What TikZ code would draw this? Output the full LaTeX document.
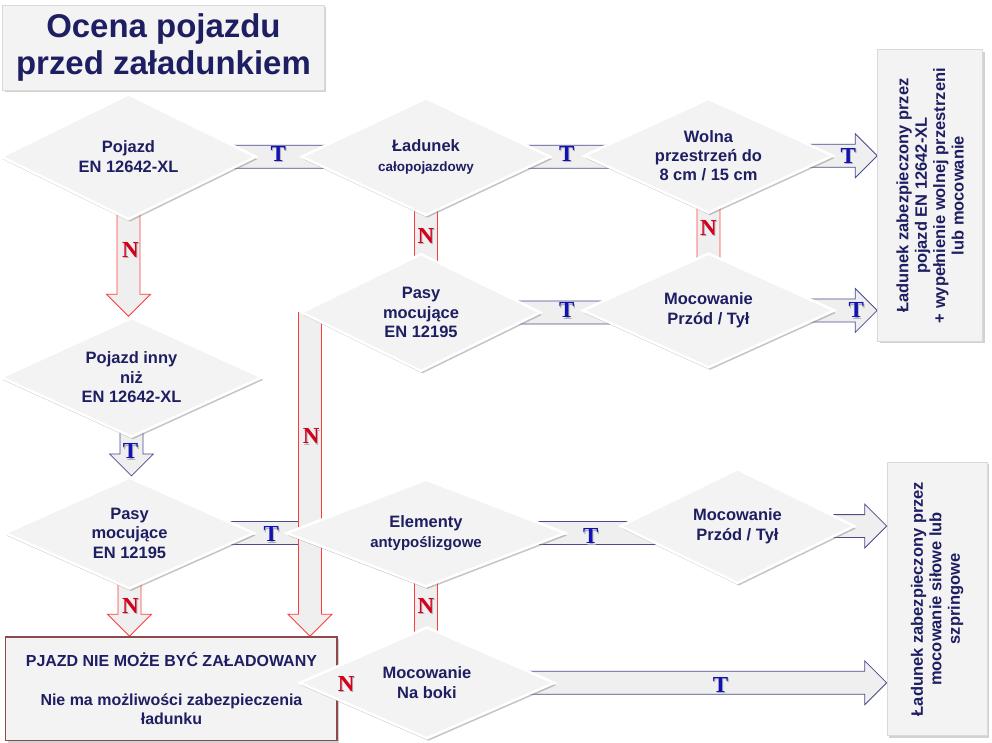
\documentclass[tikz,border=0pt]{standalone}
\usepackage{fontspec}
\setmainfont{Liberation Sans}
\newfontfamily\labfont{Liberation Serif}
\usetikzlibrary{shapes.geometric,shadows,calc,backgrounds}

\definecolor{navy}{HTML}{1E1E62}
\definecolor{tblue}{HTML}{1212B4}
\definecolor{nred}{HTML}{D4001C}
\definecolor{tline}{HTML}{4A4A8E}
\definecolor{nline}{HTML}{FF3C3C}
\definecolor{boxfill}{HTML}{F3F3F3}
\definecolor{arrowfill}{HTML}{EFEFEF}
\definecolor{errline}{HTML}{8E4A4A}

\tikzset{
  decision/.style={diamond, aspect=2, inner sep=0pt, fill=boxfill,
    draw=white, line width=2.5pt,
    drop shadow={shadow xshift=1.5pt, shadow yshift=-2.5pt, opacity=0.45},
    font=\bfseries\fontsize{16.5}{19.5}\selectfont, text=navy, align=center},
  result/.style={rectangle, inner sep=0pt, fill=boxfill, draw=gray!30,
    line width=1pt,
    drop shadow={shadow xshift=2pt, shadow yshift=-2pt, opacity=0.35},
    font=\bfseries\fontsize{16.5}{18.5}\selectfont, text=navy, align=center},
  tarrow/.style={draw=tline, fill=arrowfill, line width=0.8pt},
  narrow/.style={draw=nline, fill=arrowfill, line width=0.8pt},
  lbl/.style={font=\labfont\bfseries\fontsize{23}{23}\selectfont, inner sep=0pt}
}

% block arrows: #2 start node, #3 end node
\newcommand{\blockright}[3][tarrow]{%
  \draw[#1] let \p1=(#2), \p2=(#3) in
    (\x1,\y1+11.5pt) -- (\x2-22pt,\y1+11.5pt) -- (\x2-22pt,\y1+22pt) -- (\x2,\y1)
    -- (\x2-22pt,\y1-22pt) -- (\x2-22pt,\y1-11.5pt) -- (\x1,\y1-11.5pt) -- cycle;}
\newcommand{\blockdown}[3][narrow]{%
  \draw[#1] let \p1=(#2), \p2=(#3) in
    (\x1-11.5pt,\y1) -- (\x1-11.5pt,\y2+22pt) -- (\x1-22pt,\y2+22pt) -- (\x1,\y2)
    -- (\x1+22pt,\y2+22pt) -- (\x1+11.5pt,\y2+22pt) -- (\x1+11.5pt,\y1) -- cycle;}

% T / N marks with a small shadow
\newcommand{\yes}[2]{%
  \node[lbl, text=gray!60] (#1s) at ([xshift=1pt,yshift=-1.5pt]#2) {T};
  \node[lbl, text=tblue] (#1) at (#2) {T};}
\newcommand{\no}[2]{%
  \node[lbl, text=gray!60] (#1s) at ([xshift=1pt,yshift=-1.5pt]#2) {N};
  \node[lbl, text=nred] (#1) at (#2) {N};}

\begin{document}
\begin{tikzpicture}[x=1pt,y=-1pt]

\node[result, minimum width=322pt, minimum height=85pt,
      font=\bfseries\fontsize{33}{37}\selectfont] (title) at (162,48)
  {Ocena pojazdu\\przed załadunkiem};

% first row
\node[decision, minimum width=256pt, minimum height=126pt] (veh) at (127,157)
  {Pojazd\\EN 12642-XL};
\node[decision, minimum width=250pt, minimum height=118pt] (cargo) at (425,157)
  {Ładunek\\{\fontsize{13.5}{19}\selectfont całopojazdowy}};
\node[decision, minimum width=250pt, minimum height=115pt] (space) at (708,156)
  {Wolna\\przestrzeń do\\8 cm / 15 cm};

% second row
\node[decision, minimum width=240pt, minimum height=118pt] (straps) at (420,313)
  {Pasy\\mocujące\\EN 12195};
\node[decision, minimum width=253pt, minimum height=115pt] (fixfb) at (708,311)
  {Mocowanie\\Przód / Tył};

\node[result, rotate=90, minimum width=292pt, minimum height=105pt] (okA) at (930,196)
  {Ładunek zabezpieczony przez\\pojazd EN 12642-XL\\+ wypełnienie wolnej przestrzeni\\lub mocowanie};

% left column
\node[decision, minimum width=262pt, minimum height=120pt] (other) at (130,378)
  {Pojazd inny\\niż\\EN 12642-XL};
\node[decision, minimum width=250pt, minimum height=112pt] (strapsB) at (128,534)
  {Pasy\\mocujące\\EN 12195};
\node[decision, minimum width=280pt, minimum height=108pt] (antislip) at (425,534)
  {Elementy\\{\fontsize{15}{19}\selectfont antypoślizgowe}};
\node[decision, minimum width=235pt, minimum height=115pt] (fixfbB) at (737,527)
  {Mocowanie\\Przód / Tył};

\node[result, rotate=90, minimum width=274pt, minimum height=100pt] (okB) at (937,600)
  {Ładunek zabezpieczony przez\\mocowanie siłowe lub\\szpringowe};

\node[result, draw=errline, line width=1.3pt, minimum width=332pt, minimum height=104pt,
      font=\bfseries\fontsize{16}{19}\selectfont] (fail) at (170,690)
  {PJAZD NIE MOŻE BYĆ ZAŁADOWANY\\[20pt]Nie ma możliwości zabezpieczenia\\ładunku};
\node[decision, minimum width=256pt, minimum height=112pt] (fixside) at (426,684)
  {Mocowanie\\Na boki};

\begin{scope}[on background layer]
\fill[white] (0,0) rectangle (992,744);
\blockright{veh}{cargo}
\blockright{cargo}{space}
\blockright{space}{okA.north}
\blockright{straps}{fixfb}
\blockright{fixfb}{okA.north}
\blockright{strapsB}{antislip}
\blockright{antislip}{fixfbB}
\blockright{fixfbB}{okB.north}
\blockright{fixside}{okB.north}
\blockdown[tarrow]{other}{strapsB.north}
\blockdown{veh}{other.north}
\blockdown{cargo}{straps}
\blockdown{space}{fixfb}
\blockdown{[xshift=10pt]straps.west}{fail.north}
\blockdown{strapsB}{fail.north}
\blockdown{antislip}{fixside}
\end{scope}

\yes{t1}{277,154}
\yes{t2}{566,154}
\yes{t3}{848,156}
\yes{t4}{566,311}
\yes{t5}{856,311}
\yes{t6}{129,452}
\yes{t7}{270,535}
\yes{t8}{590,537}
\yes{t9}{720,686}
\no{n1}{129,250}
\no{n2}{425,236}
\no{n3}{708,228}
\no{n4}{310,437}
\no{n5}{129,607}
\no{n6}{425,607}
\no{n7}{345,685}

\end{tikzpicture}
\end{document}
